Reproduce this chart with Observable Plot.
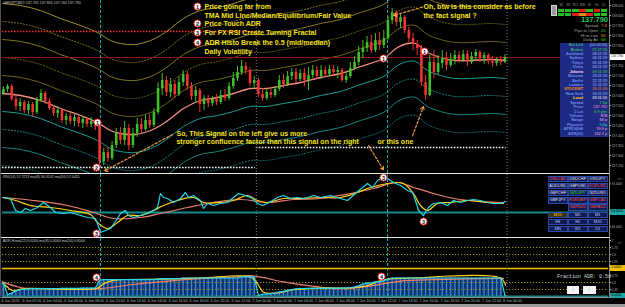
<!DOCTYPE html>
<html>
<head>
<meta charset="utf-8">
<script src="https://cdn.jsdelivr.net/npm/d3@7"></script>
<script src="https://cdn.jsdelivr.net/npm/@observablehq/plot@0.6"></script>
<style>
html, body { margin:0; padding:0; background:#000; }
#wrap { position:relative; width:625px; height:307px; overflow:hidden; background:#000; }
#wrap svg { position:absolute; left:0; display:block; background:transparent; }
</style>
</head>
<body>
<div id="wrap"></div>
<script>
// ================= DATA =================
const symbolLine = "GBPJPY,M15  137.765 137.805 137.760 137.790";
const rsiTitle = "RSI(14) 57.7213  ma(8) 56.3102  ma(50) 57.0411";
const adrTitle = "ADR-Histo(22) 0.0200  ma(8) 0.4000  ma(50) 0.6500";

const barStartHour = -0.2;   // hours from 6 Jun 00:00
const barHours = 0.4;

const opens = [137.610,137.630,137.645,137.580,137.545,137.565,137.525,137.555,137.515,137.575,
 137.610,137.570,137.535,137.510,137.525,137.475,137.495,137.470,137.490,137.460,
 137.480,137.455,137.470,137.445,137.270,137.315,137.285,137.350,137.410,137.375,
 137.435,137.350,137.410,137.455,137.430,137.475,137.450,137.515,137.635,137.675,
 137.615,137.655,137.605,137.665,137.705,137.645,137.595,137.625,137.555,137.585,
 137.560,137.580,137.565,137.600,137.585,137.645,137.685,137.715,137.745,137.725,
 137.660,137.675,137.605,137.585,137.615,137.600,137.630,137.675,137.655,137.695,
 137.715,137.680,137.710,137.675,137.700,137.725,137.695,137.725,137.705,137.730,
 137.715,137.725,137.675,137.695,137.735,137.765,137.815,137.835,137.865,137.825,
 137.875,137.850,137.885,137.975,138.015,137.965,137.990,137.925,137.885,137.855,
 137.835,137.665,137.600,137.765,137.715,137.760,137.785,137.750,137.780,137.800,
 137.775,137.805,137.765,137.795,137.815,137.785,137.800,137.770,137.760,137.775,
 137.765];
const closes = [137.630,137.645,137.580,137.545,137.565,137.525,137.555,137.515,137.575,137.610,
 137.570,137.535,137.510,137.525,137.475,137.495,137.470,137.490,137.460,137.480,
 137.455,137.470,137.445,137.270,137.315,137.285,137.350,137.410,137.375,137.435,
 137.350,137.410,137.455,137.430,137.475,137.450,137.515,137.635,137.675,137.615,
 137.655,137.605,137.665,137.705,137.645,137.595,137.625,137.555,137.585,137.560,
 137.580,137.565,137.600,137.585,137.645,137.685,137.715,137.745,137.725,137.660,
 137.675,137.605,137.585,137.615,137.600,137.630,137.675,137.655,137.695,137.715,
 137.680,137.710,137.675,137.700,137.725,137.695,137.725,137.705,137.730,137.715,
 137.725,137.675,137.695,137.735,137.765,137.815,137.835,137.865,137.825,137.875,
 137.850,137.885,137.975,138.015,137.965,137.990,137.925,137.885,137.855,137.835,
 137.665,137.600,137.765,137.715,137.760,137.785,137.750,137.780,137.800,137.775,
 137.805,137.765,137.795,137.815,137.785,137.800,137.770,137.760,137.775,137.765,
 137.790];
const highs = [137.645,137.655,137.655,137.595,137.585,137.575,137.570,137.565,137.590,137.630,
 137.620,137.585,137.550,137.545,137.535,137.510,137.515,137.505,137.500,137.495,
 137.490,137.490,137.480,137.455,137.335,137.340,137.370,137.435,137.440,137.470,
 137.455,137.435,137.485,137.485,137.500,137.505,137.535,137.665,137.710,137.695,
 137.685,137.675,137.695,137.725,137.720,137.665,137.645,137.635,137.600,137.600,
 137.595,137.605,137.625,137.630,137.665,137.715,137.745,137.775,137.765,137.740,
 137.695,137.685,137.635,137.635,137.640,137.645,137.700,137.705,137.720,137.735,
 137.735,137.730,137.735,137.740,137.750,137.745,137.750,137.745,137.750,137.750,
 137.745,137.735,137.715,137.765,137.795,137.845,137.875,137.895,137.900,137.910,
 137.915,137.925,137.995,138.035,138.025,138.005,138.000,137.940,137.910,137.875,
 137.850,137.700,137.800,137.825,137.800,137.825,137.815,137.810,137.825,137.820,
 137.825,137.825,137.815,137.830,137.825,137.815,137.810,137.795,137.790,137.795,
 137.805];
const lows = [137.600,137.615,137.570,137.525,137.520,137.510,137.505,137.490,137.505,137.565,
 137.555,137.525,137.495,137.485,137.460,137.450,137.455,137.445,137.440,137.435,
 137.440,137.440,137.425,137.235,137.250,137.265,137.275,137.335,137.355,137.350,
 137.325,137.335,137.390,137.410,137.420,137.435,137.440,137.505,137.600,137.595,
 137.590,137.585,137.595,137.645,137.625,137.575,137.560,137.515,137.525,137.540,
 137.545,137.550,137.555,137.570,137.575,137.630,137.670,137.700,137.705,137.645,
 137.635,137.590,137.570,137.575,137.585,137.590,137.620,137.635,137.645,137.675,
 137.660,137.670,137.645,137.625,137.685,137.680,137.680,137.690,137.695,137.695,
 137.685,137.665,137.660,137.685,137.725,137.750,137.785,137.815,137.810,137.815,
 137.825,137.835,137.875,137.955,137.945,137.935,137.910,137.865,137.825,137.800,
 137.645,137.575,137.595,137.685,137.700,137.735,137.725,137.740,137.755,137.760,
 137.765,137.745,137.755,137.775,137.765,137.755,137.755,137.740,137.745,137.750,
 137.760];

// TMA mid line [hour, price]
const tmaMid = [[-0.29,137.610],[1.44,137.600],[3.35,137.575],[5.26,137.535],[7.18,137.500],[8.80,137.465],
 [10.05,137.425],[11.00,137.410],[12.44,137.405],[13.88,137.425],[14.83,137.450],[15.79,137.485],[17.03,137.535],
 [18.66,137.575],[20.29,137.590],[21.82,137.610],[23.44,137.635],[24.88,137.635],[26.60,137.650],[28.23,137.665],
 [30.14,137.690],[32.06,137.710],[33.97,137.745],[36.17,137.785],[37.51,137.840],[38.47,137.860],[39.23,137.860],
 [40.38,137.815],[41.63,137.790],[43.06,137.775],[44.50,137.775],[46.41,137.780],[47.85,137.775]];
const bandStep = 0.09;
const currentPrice = 137.790;
const priceTicks = [137.25,137.30,137.35,137.40,137.45,137.50,137.55,137.60,137.65,137.70,137.75,137.80,137.85,137.90,137.95,138.00,138.05];
// daily ADR boundaries
const adrHighLines = [{t1:-0.29, t2:23.9, p:137.92}];
const adrLowLines = [{t1:-0.29, t2:23.9, p:137.24}, {t1:24.0, t2:47.9, p:137.34}];
const signalHours = [9.09, 36.56];
const dayStarts = [24, 48];

// RSI window [hour, value]
const rsiMain = [[-0.29,60.5],[0.48,59.8],[0.96,51.4],[1.44,50.0],[1.91,52.8],[2.39,51.4],[3.06,53.5],[3.64,57.0],[4.31,53.5],[4.78,50.0],
 [5.55,49.3],[6.22,50.0],[7.18,47.9],[7.85,46.5],[8.61,45.8],[8.80,42.3],[9.09,36.0],[9.57,37.4],[10.05,38.8],[10.72,45.8],
 [11.00,49.3],[11.48,51.4],[11.77,47.9],[12.25,46.5],[12.92,47.9],[13.59,49.3],[14.16,51.4],[14.55,53.5],[14.83,63.3],[15.12,60.5],
 [15.50,59.8],[16.08,57.0],[16.75,59.8],[17.22,64.0],[17.51,60.5],[17.99,61.9],[18.66,58.4],[18.95,52.8],[19.33,56.3],[19.90,54.9],
 [20.57,56.3],[21.24,57.0],[21.82,60.5],[22.30,63.3],[22.97,61.9],[23.64,59.8],[24.11,56.3],[24.59,54.9],[25.07,56.3],[26.03,60.5],
 [26.60,61.9],[27.27,59.8],[27.94,60.5],[28.52,59.8],[28.90,60.5],[29.47,61.9],[30.14,60.5],[31.10,61.9],[32.06,59.8],[32.73,58.4],
 [33.49,63.3],[34.16,67.5],[34.64,70.3],[35.12,67.5],[35.60,72.4],[36.08,74.5],[36.56,73.8],[37.13,71.0],[37.80,68.9],[38.47,65.4],
 [38.95,64.0],[39.23,58.4],[39.52,51.4],[40.00,47.9],[40.48,53.5],[40.96,56.3],[41.63,57.0],[42.30,54.9],[42.87,58.4],[43.54,57.0],
 [44.21,58.4],[44.78,59.1],[45.45,58.4],[46.12,57.0],[46.70,56.3],[47.37,56.3],[47.85,57.7]];
const rsiFast = [[-0.29,60.5],[0.96,58.4],[2.39,54.9],[4.31,53.5],[6.22,51.4],[8.13,48.6],[8.80,43.0],[9.76,38.8],[10.72,43.0],
 [11.67,47.9],[12.92,47.9],[14.16,51.4],[15.12,54.9],[16.46,58.4],[17.99,60.5],[18.95,57.0],[20.57,57.0],[21.82,58.4],[23.16,61.9],
 [24.11,58.4],[25.07,57.0],[26.60,59.8],[28.23,59.8],[30.14,60.5],[32.06,60.5],[33.68,64.0],[34.93,67.5],[36.56,70.3],[37.51,71.0],
 [38.09,70.3],[39.04,63.3],[39.71,54.9],[40.38,51.4],[41.34,56.3],[42.58,57.0],[44.21,58.4],[46.12,57.0],[47.66,56.3]];
const rsiSlow = [[-0.29,60.5],[2.68,58.4],[5.93,54.9],[8.42,50.0],[10.33,45.8],[12.92,46.5],[14.83,49.3],[17.42,53.5],[19.90,57.0],
 [22.49,59.1],[25.07,57.0],[27.56,59.1],[30.14,59.8],[33.01,63.3],[35.22,66.8],[37.51,71.0],[39.04,67.5],[40.96,63.3],[42.87,59.8],
 [45.45,57.7],[47.66,57.0]];
const rsiLevel = 50;
const rsiTicks = [40, 70];

// ADR window: histogram value per bar (fraction of ADR)
const adrHisto = [0.50,0.06,0.12,0.20,0.24,0.26,0.27,0.28,0.28,0.28,
 0.28,0.28,0.28,0.28,0.29,0.29,0.29,0.29,0.29,0.30,
 0.30,0.30,0.30,0.58,0.60,0.60,0.60,0.60,0.60,0.60,
 0.60,0.60,0.60,0.60,0.60,0.60,0.60,0.62,0.64,0.64,
 0.64,0.64,0.64,0.66,0.66,0.66,0.66,0.66,0.66,0.66,
 0.66,0.66,0.66,0.66,0.66,0.66,0.66,0.70,0.70,0.70,
 0.70,0.03,0.08,0.09,0.10,0.12,0.16,0.18,0.22,0.25,
 0.27,0.28,0.28,0.29,0.29,0.29,0.29,0.29,0.30,0.30,
 0.30,0.30,0.30,0.32,0.34,0.38,0.44,0.48,0.48,0.52,
 0.52,0.56,0.62,0.66,0.66,0.66,0.66,0.66,0.66,0.66,
 0.66,0.66,0.66,0.66,0.66,0.66,0.66,0.66,0.66,0.66,
 0.66,0.66,0.66,0.66,0.66,0.66,0.66,0.66,0.66,0.66,
 0.02];
const adrFast = [[-0.29,0.50],[0.29,0.30],[0.77,0.20],[1.44,0.26],[2.39,0.29],[8.80,0.30],[9.38,0.45],[10.05,0.55],[11.00,0.60],
 [14.83,0.62],[18.66,0.66],[23.44,0.70],[24.11,0.46],[24.69,0.15],[26.03,0.13],[27.56,0.24],[30.14,0.30],[33.01,0.31],[34.64,0.39],
 [35.89,0.57],[36.84,0.63],[38.76,0.66],[47.37,0.66],[47.85,0.40]];
const adrSlow = [[-0.29,0.52],[1.44,0.32],[3.35,0.28],[8.80,0.27],[11.96,0.42],[15.50,0.55],[18.66,0.64],[21.82,0.70],[23.64,0.74],
 [26.60,0.52],[29.19,0.38],[31.39,0.29],[33.01,0.29],[34.64,0.36],[37.80,0.55],[40.96,0.60],[44.21,0.63],[47.66,0.65]];
const adrDotted = [0.25, 0.5, 1.25, 1.5, 1.75];
const adrFull = 1.0;
const adrTicks = [0.25, 0.5, 0.75, 1.25, 1.5, 1.75, 2];

const timeHours = [0,2,4,6,8,10,12,14,16,18,20,22,24,26,28,30,32,34,36,38,40,42,44,46,48];
const timeLabels = ["6 Jun 2019","6 Jun 02:00","6 Jun 04:00","6 Jun 06:00","6 Jun 08:00","6 Jun 10:00","6 Jun 12:00",
 "6 Jun 14:00","6 Jun 16:00","6 Jun 18:00","6 Jun 20:00","6 Jun 22:00","7 Jun 00:00","7 Jun 02:00","7 Jun 04:00",
 "7 Jun 06:00","7 Jun 08:00","7 Jun 10:00","7 Jun 12:00","7 Jun 14:00","7 Jun 16:00","7 Jun 18:00","7 Jun 20:00",
 "7 Jun 22:00","8 Jun 00:00"];

// annotations
const priceMarks = [{t:8.80,p:137.465,n:"1"},{t:8.71,p:137.24,n:"2"},{t:36.17,p:137.785,n:"1"},{t:40.10,p:137.82,n:"1"}];
const rsiMarks = [{t:8.71,v:35.3,n:"3"},{t:36.17,v:74.5,n:"3"},{t:40.00,v:43.7,n:"3"}];
const adrMarks = [{t:8.71,v:0.68,n:"4"},{t:35.98,v:0.71,n:"4"}];
const legendMarks = [{t:18.37,p:138.045,n:"1"},{t:18.37,p:137.96,n:"2"},{t:18.37,p:137.915,n:"3"},{t:18.37,p:137.865,n:"4"}];
const notes = [
 {t:19.04,p:138.045,s:"Price going far from"},
 {t:19.04,p:138.000,s:"TMA Mid Line/Median/Equilibrium/Fair Value"},
 {t:19.04,p:137.960,s:"Price Touch ADR"},
 {t:19.04,p:137.912,s:"For FX RSI Create Turning Fractal"},
 {t:19.04,p:137.865,s:"ADR Histo Break the 0.5 (mid/median)"},
 {t:19.04,p:137.820,s:"Daily Volatility"},
 {t:40.00,p:138.045,s:"Oh, btw is this consider as before"},
 {t:40.00,p:138.000,s:"the fact signal ?"},
 {t:16.36,p:137.410,s:"So, This Signal on the left give us more"},
 {t:16.36,p:137.370,s:"stronger confluence factor than this signal on the right"},
 {t:35.60,p:137.370,s:"or this one"}
];
const arrows = [
 {t1:15.98,p1:137.405,t2:9.47,p2:137.222},
 {t1:34.74,p1:137.350,t2:36.17,p2:137.228},
 {t1:38.95,p1:137.398,t2:40.00,p2:137.545},
 {t1:39.90,p1:138.042,t2:37.13,p2:138.000}
];

// ================= DRAW =================
const wrap = document.getElementById("wrap");
const FONT = "Liberation Sans, Arial, sans-serif";
const xDomain = [-0.287, 57.703];
const bars = opens.map((o, i) => ({t: barStartHour + i * barHours, o, c: closes[i], h: highs[i], l: lows[i], v: adrHisto[i]}));
const tma = tmaMid.map(([t, p]) => ({t, p}));
const UP = "#3fbf2a", DOWN = "#f03434";
const isUp = d => d.c >= d.o, isDown = d => d.c < d.o;
const bandDefs = [
 {k: 5, color: "#a39235", dash: null}, {k: 4, color: "#857522", dash: "1.2,1.8"}, {k: 3, color: "#857522", dash: null},
 {k: 2, color: "#6e6214", dash: "1.2,1.8"}, {k: 1, color: "#6e6214", dash: null},
 {k: -1, color: "#1c9c9c", dash: null}, {k: -2, color: "#178585", dash: "1.2,1.8"}, {k: -3, color: "#178585", dash: null},
 {k: -4, color: "#136f6f", dash: "1.2,1.8"}
];
const sepMarks = () => [
 Plot.ruleX(dayStarts, {stroke: "#7a7a7a", strokeDasharray: "1,2"}),
 Plot.ruleX(signalHours, {stroke: "#22a9bb", strokeDasharray: "3,2"})
];
const numberMarks = (data, yKey) => [
 Plot.dot(data, {x: "t", y: yKey, r: 3.6, fill: "#ffffff", stroke: "#e02020", strokeWidth: 1}),
 Plot.text(data, {x: "t", y: yKey, text: "n", fill: "#111", fontSize: 5.5, fontWeight: "bold", dy: 0.3})
];
const axisStyle = {anchor: "right", tickSize: 2, tickPadding: 1, fontSize: 3.3, color: "#b4b4b4"};

const mainPlot = Plot.plot({
 width: 625, height: 173, marginLeft: 2, marginRight: 17, marginTop: 0, marginBottom: 0,
 style: {background: "transparent", fontFamily: FONT},
 x: {domain: xDomain, axis: null},
 y: {domain: [137.21, 138.075]},
 marks: [
  ...bandDefs.map(b => Plot.line(tma, {x: "t", y: d => d.p + b.k * bandStep, stroke: b.color, strokeWidth: 1,
     strokeDasharray: b.dash || undefined, curve: "catmull-rom", clip: true})),
  Plot.line(tma, {x: "t", y: "p", stroke: "#f4917e", strokeWidth: 1.3, curve: "catmull-rom"}),
  Plot.ruleY([currentPrice], {stroke: "#8e1414", strokeWidth: 1}),
  Plot.ruleY(adrHighLines, {y: "p", x1: "t1", x2: "t2", stroke: "#ff2a2a", strokeWidth: 1.5, strokeDasharray: "1.5,1.5"}),
  Plot.ruleY(adrLowLines, {y: "p", x1: "t1", x2: "t2", stroke: "#f4f4f4", strokeWidth: 1.6, strokeDasharray: "1.6,1.4"}),
  ...sepMarks(),
  Plot.ruleX(bars, {filter: isUp, x: "t", y1: "l", y2: "h", stroke: UP, strokeWidth: 1}),
  Plot.ruleX(bars, {filter: isDown, x: "t", y1: "l", y2: "h", stroke: DOWN, strokeWidth: 1}),
  Plot.ruleX(bars, {filter: isUp, x: "t", y1: "o", y2: "c", stroke: UP, strokeWidth: 2.6}),
  Plot.ruleX(bars, {filter: isDown, x: "t", y1: "o", y2: "c", stroke: DOWN, strokeWidth: 2.6}),
  Plot.arrow(arrows, {x1: "t1", y1: "p1", x2: "t2", y2: "p2", stroke: "#f6a640", strokeWidth: 1.1, strokeDasharray: "2.5,1.8", headLength: 5, bend: 0}),
  Plot.text(notes, {x: "t", y: "p", text: "s", textAnchor: "start", fill: "#f7e21b", fontSize: 7, fontWeight: "bold"}),
  ...numberMarks(priceMarks, "p"),
  ...numberMarks(legendMarks, "p"),
  Plot.axisY(priceTicks, {...axisStyle, tickFormat: d => d.toFixed(3)})
 ]
});
mainPlot.style.top = "0px";
wrap.appendChild(mainPlot);

const rsiPlot = Plot.plot({
 width: 625, height: 63, marginLeft: 2, marginRight: 17, marginTop: 0, marginBottom: 0,
 style: {background: "transparent", fontFamily: FONT},
 x: {domain: xDomain, axis: null},
 y: {domain: [32.5, 76.6]},
 marks: [
  Plot.ruleY([rsiLevel], {stroke: "#178b8b", strokeWidth: 2}),
  ...sepMarks(),
  Plot.line(rsiSlow, {x: d => d[0], y: d => d[1], stroke: "#ea806c", strokeWidth: 1.2, curve: "catmull-rom"}),
  Plot.line(rsiFast, {x: d => d[0], y: d => d[1], stroke: "#ffd21a", strokeWidth: 1.2, curve: "catmull-rom"}),
  Plot.line(rsiMain, {x: d => d[0], y: d => d[1], stroke: "#25d8ea", strokeWidth: 1.2}),
  ...numberMarks(rsiMarks, "v"),
  Plot.axisY(rsiTicks, {...axisStyle, tickFormat: d => d.toFixed(3)})
 ]
});
rsiPlot.style.top = "174px";
wrap.appendChild(rsiPlot);

const adrPlot = Plot.plot({
 width: 625, height: 69, marginLeft: 2, marginRight: 17, marginTop: 0, marginBottom: 10,
 style: {background: "transparent", fontFamily: FONT},
 x: {domain: xDomain, axis: null},
 y: {domain: [-0.036, 2.071]},
 marks: [
  Plot.rect(bars, {x1: d => d.t - barHours / 2, x2: d => d.t + barHours / 2, y1: 0, y2: "v", fill: "#123a78"}),
  Plot.ruleX(bars, {x: "t", y1: 0, y2: "v", stroke: "#3b86d8", strokeWidth: 1.2}),
  Plot.ruleY(adrDotted, {stroke: "#a8961a", strokeDasharray: "1.2,1.8"}),
  Plot.ruleY([adrFull], {stroke: "#f3c300", strokeWidth: 1.6}),
  Plot.ruleY([0], {stroke: "#178b8b", strokeWidth: 2}),
  ...sepMarks(),
  Plot.line(adrSlow, {x: d => d[0], y: d => d[1], stroke: "#ea806c", strokeWidth: 1.2, curve: "catmull-rom"}),
  Plot.line(adrFast, {x: d => d[0], y: d => d[1], stroke: "#ffd21a", strokeWidth: 1.2, curve: "catmull-rom"}),
  Plot.line(bars, {x: "t", y: "v", stroke: "#25d8ea", strokeWidth: 1.2}),
  ...numberMarks(adrMarks, "v"),
  Plot.axisY(adrTicks, {...axisStyle, tickFormat: d => String(d)}),
  Plot.text(timeHours, {x: d => d, text: (d, i) => timeLabels[i], frameAnchor: "bottom", dy: 4.6, dx: -4,
    textAnchor: "start", fontSize: 3.6, fill: "#b8b8b8"})
 ]
});
adrPlot.style.top = "238px";
wrap.appendChild(adrPlot);

// ================= CHROME / WIDGETS =================
function el(css, text) {
 const d = document.createElement("div");
 d.style.cssText = "position:absolute;white-space:nowrap;line-height:1;box-sizing:border-box;font-family:'Liberation Sans',Arial,sans-serif;" + css;
 if (text != null) d.textContent = text;
 wrap.appendChild(d);
 return d;
}
el("left:0;top:173px;width:609px;height:1px;background:#e6e6e6");
el("left:0;top:237px;width:609px;height:1px;background:#e6e6e6");
el("left:609px;top:0;width:1px;height:298px;background:#8a8a8a");
el("left:0;top:297px;width:610px;height:1px;background:#8a8a8a");
el("left:0;top:0;width:1px;height:298px;background:#505050");
el("left:0;top:304px;width:625px;height:3px;background:#9a9a9a");

el("left:3px;top:1.5px;font-size:3.6px;color:#c8c8c8", symbolLine);
el("left:3px;top:175.5px;font-size:3.6px;color:#c8c8c8", rsiTitle);
el("left:3px;top:239.5px;font-size:3.6px;color:#c8c8c8", adrTitle);

function axisTag(y, text, bg) {
 el(`left:610px;top:${y - 2.6}px;width:15px;height:5.2px;background:${bg};color:#000;font-size:3.4px;line-height:5.2px;padding-left:1px`, text);
}
axisTag(mainPlot.scale("y").apply(currentPrice), currentPrice.toFixed(3), "#ffffff");
axisTag(174 + rsiPlot.scale("y").apply(rsiLevel), rsiLevel.toFixed(4), "#1aa6a6");
axisTag(238 + adrPlot.scale("y").apply(adrFull), adrFull.toFixed(4), "#f0c000");
axisTag(238 + adrPlot.scale("y").apply(adrHisto[adrHisto.length - 1]), adrHisto[adrHisto.length - 1].toFixed(4), "#1aa6a6");

// top-right trend grid
const tfNames = ["M1","M5","M15","M30","H1","H4","D1"];
const gridRow1 = ["#22c022","#22c022","#22c022","#e02020","#22c022","#e02020","#22c022"];
const gridRow2 = ["#22c022","#22c022","#e02020","#e08a20","#e02020","#22c022","#22c022"];
el("left:551px;top:5px;width:6px;height:11px;background:#9a9a9a;border:1px solid #d0d0d0");
tfNames.forEach((n, c) => {
 el(`left:${558 + c * 7.1}px;top:4.5px;width:6.4px;font-size:2.6px;color:#9a9a9a;text-align:center`, n);
 el(`left:${558 + c * 7.1}px;top:8.8px;width:6.4px;height:3px;background:${gridRow1[c]}`);
 el(`left:${558 + c * 7.1}px;top:12.6px;width:6.4px;height:3px;background:${gridRow2[c]}`);
});
el("left:560px;top:16.4px;width:48px;text-align:right;font-size:7.5px;font-weight:bold;color:#20c860", currentPrice.toFixed(3));
const statRows = [["Spread","7.6","#ff8c1a"],["Pips to Open","20","#33cc33"],["Hi to Low","66","#e09a1a"],["Daily Av","68","#33cc33"]];
statRows.forEach((r, i) => {
 el(`left:550px;top:${24.4 + i * 4.6}px;width:48px;text-align:right;font-size:4.1px;color:#a8a8a8`, r[0]);
 el(`left:601px;top:${24.4 + i * 4.6}px;font-size:4.1px;color:${r[2]}`, r[1]);
});

// blue info box
const infoRows = [
 ["Bar Left","[00:03:03]","#3cb371","#a8c0ff"],["Broker","21:57:56","#3cb371","#33dd33"],
 ["Auckland","08:11:59","#7090ee","#a8c0ff"],["Sydney","06:11:59","#7090ee","#a8c0ff"],
 ["Tokyo","05:11:59","#7090ee","#a8c0ff"],["China","04:11:59","#7090ee","#a8c0ff"],
 ["Jakarta","03:11:59","#ffd0ff","#33dd33"],["Moscow","23:11:59","#7090ee","#a8c0ff"],
 ["Berlin","22:11:59","#7090ee","#a8c0ff"],["London","21:11:59","#7090ee","#a8c0ff"],
 ["STOCKMT","16:11:59","#ff8c1a","#ff8c1a"],["New York","16:11:59","#7090ee","#a8c0ff"],
 ["Local","03:11:59","#ffd21a","#ffffff"],["Spread","7.6p","#7090ee","#33dd33"],
 ["Price","137.790","#7090ee","#ff8ad0"],["1 Lot","6.9 p/m","#7090ee","#33dd33"],
 ["Volume","878","#7090ee","#ffb0e0"],["Range","66 p","#7090ee","#ffb0e0"],
 ["Pipscore","5.6p","#7090ee","#40e0d0"],["ATR(14)H4","19.9 p","#7090ee","#ffb0e0"],
 ["ADR(22)","102.7 p","#7090ee","#ffb0e0"]
];
el("left:560px;top:43px;width:49px;height:94px;background:#1e2a82");
infoRows.forEach((r, i) => {
 el(`left:560px;top:${44.2 + i * 4.42}px;width:23px;text-align:right;font-size:3.8px;font-weight:bold;color:${r[2]}`, r[0]);
 el(`left:585px;top:${44.2 + i * 4.42}px;width:22px;text-align:right;font-size:3.8px;color:${r[3]}`, r[1]);
});

// symbol / timeframe buttons
const pairRows = [
 [["USDCAD","#ff4a4a"],["USDCHF","#e8e8ff"],["USDJPY","#e8e8ff"]],
 [["AUDUSD","#e8e8ff"],["GBPUSD","#e8e8ff"],["EURUSD","#ff4a4a"]],
 [["GBPCHF","#e8e8ff"],["NZDJPY","#33e033"],["NZDUSD","#e8e8ff"]],
 [["GBPJPY","#e8e8ff"],["EURGBP","#ff4a4a"],["GBPCAD","#ff4a4a"]],
 [null,["GBPNZD","#ff4a4a"],["GBPAUD","#ff4a4a"]],
 [["M15","#ffd21a"],["M5","#bcd0ff"],["M1","#bcd0ff"]],
 [["H4","#bcd0ff"],["H1","#bcd0ff"],["M30","#bcd0ff"]],
 [["MN","#bcd0ff"],["W1","#bcd0ff"],["D1","#bcd0ff"]]
];
pairRows.forEach((row, r) => row.forEach((cell, c) => {
 if (!cell) return;
 el(`left:${548 + c * 20}px;top:${175.5 + r * 7.2}px;width:19.5px;height:6.6px;background:${r === 5 && c === 0 ? "#3e3510" : "#111a52"};border:1px solid #2a4aa8;color:${cell[1]};font-size:4px;line-height:4.6px;text-align:center`, cell[0]);
}));

el("left:557px;top:274.5px;font-family:'Liberation Mono','DejaVu Sans Mono',monospace;font-size:5px;color:#d8d8d8", "Fraction ADR: 0.58");
el("left:567px;top:286px;width:12px;height:8px;background:#f4f4f4;color:#555;font-size:4px;line-height:8px;text-align:center", "‹");
el("left:583px;top:286px;width:13px;height:8px;background:#f4f4f4;color:#555;font-size:4px;line-height:8px;text-align:center", "›");
</script>
</body>
</html>
